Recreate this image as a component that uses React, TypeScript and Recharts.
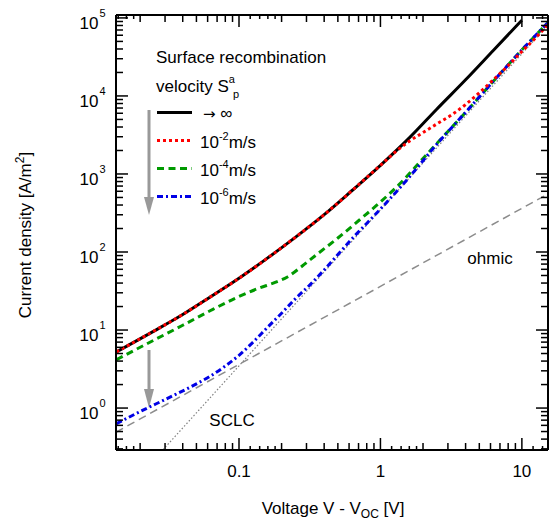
import React from "react";
import { LineChart, Line, XAxis, YAxis, Customized } from "recharts";

// values: voltage V - Voc [V], current density [A/m^2]
const voltInf = [0.0136, 0.025, 0.04, 0.063, 0.1, 0.158, 0.25, 0.4, 0.63, 1, 1.6, 2.5, 4, 6.3, 10];
const currInf = [5.25, 9.68, 15.8, 26.7, 46.1, 82.8, 154, 301, 614, 1290, 2900, 6750, 16100, 38500, 93500];

const voltS2 = [0.0136, 0.025, 0.04, 0.063, 0.1, 0.158, 0.25, 0.4, 0.63, 1, 1.25, 1.6, 2, 2.5, 3.2, 4, 5, 6.3, 8, 10, 12.6, 15.3];
const currS2 = [5.25, 9.68, 15.8, 26.7, 46.1, 82.8, 154, 301, 614, 1290, 1860, 2630, 3390, 4370, 5750, 7760, 11000, 16200, 24500, 37200, 56200, 83200];

const voltS4 = [0.0136, 0.025, 0.04, 0.063, 0.1, 0.14, 0.18, 0.22, 0.28, 0.35, 0.5, 0.71, 1, 1.4, 2, 2.5, 4, 6.3, 10, 15.3];
const currS4 = [4.17, 7.41, 11.5, 17.8, 26.9, 34.7, 40.7, 47.9, 66.1, 91.2, 151, 257, 437, 776, 1580, 2450, 6170, 15500, 38900, 87100];

const voltS6 = [0.0136, 0.02, 0.032, 0.05, 0.063, 0.079, 0.1, 0.126, 0.158, 0.2, 0.25, 0.32, 0.4, 0.63, 1, 1.6, 2.5, 4, 6.3, 10, 15.3];
const currS6 = [0.631, 0.902, 1.36, 2.04, 2.58, 3.4, 4.74, 7.01, 10.7, 16.4, 25.1, 38.5, 58.9, 148, 355, 912, 2400, 6170, 15500, 38900, 87100];

const voltOhmic = [0.0135, 15.3];
const currOhmic = [0.49, 555];

const voltSclc = [0.029, 15.3];
const currSclc = [0.292, 81200];

const xDecades = [0.01, 0.1, 1, 10];
const yDecades = [0.1, 1, 10, 100, 1000, 10000, 100000];

const X_DOMAIN: [number, number] = [0.0135, 15.3];
const Y_DOMAIN: [number, number] = [0.29, 109000];

const FONT = "'Liberation Sans', Arial, Helvetica, sans-serif";

const toPts = (vs: number[], js: number[]) => vs.map((v, i) => ({ v, j: js[i] }));

const inside = (v: number, d: [number, number]) => v >= d[0] * 0.999 && v <= d[1] * 1.001;

const xTicks = xDecades
  .flatMap((d) => [1, 1.2, 1.4, 1.6, 1.8, 2, 3, 4, 5, 6, 7, 8, 9].map((m) => m * d))
  .filter((v) => inside(v, X_DOMAIN));
const yTicks = yDecades
  .flatMap((d) => [1, 2, 3, 4, 5, 6, 7, 8, 9].map((m) => m * d))
  .filter((v) => inside(v, Y_DOMAIN));

const mantissa = (v: number) => v / Math.pow(10, Math.floor(Math.log10(v) + 1e-9));
const isMajor = (v: number) => Math.abs(mantissa(v) - 1) < 1e-6;
const tickLen = (v: number) => {
  const m = mantissa(v);
  if (Math.abs(m - 1) < 1e-6) return 12;
  if (m < 1.99) return 4;
  return 7;
};

const BottomTick = (props: any) => {
  const { x, y, payload } = props;
  const v = payload.value;
  return (
    <g>
      <line x1={x} x2={x} y1={y} y2={y - tickLen(v)} stroke="#000" strokeWidth={1.5} />
      {isMajor(v) && (
        <text x={x} y={y + 27} textAnchor="middle" fontSize={17} fontFamily={FONT} fill="#000">
          {String(v)}
        </text>
      )}
    </g>
  );
};

const TopTick = (props: any) => {
  const { x, y, payload } = props;
  return <line x1={x} x2={x} y1={y} y2={y + tickLen(payload.value)} stroke="#000" strokeWidth={1.5} />;
};

const LeftTick = (props: any) => {
  const { x, y, payload } = props;
  const v = payload.value;
  const exp = Math.round(Math.log10(v));
  return (
    <g>
      <line x1={x} x2={x + tickLen(v)} y1={y} y2={y} stroke="#000" strokeWidth={1.5} />
      {isMajor(v) && (
        <g fontFamily={FONT} fill="#000">
          <text x={98.5} y={y + 11} textAnchor="end" fontSize={17}>10</text>
          <text x={99.5} y={y - 1} fontSize={11}>{exp}</text>
        </g>
      )}
    </g>
  );
};

const RightTick = (props: any) => {
  const { x, y, payload } = props;
  return <line x1={x} x2={x - tickLen(payload.value)} y1={y} y2={y} stroke="#000" strokeWidth={1.5} />;
};

const series = [
  { name: "inf", stroke: "#000000", dash: undefined },
  { name: "s2", stroke: "#ff0000", dash: "3 3" },
  { name: "s4", stroke: "#009a00", dash: "7 4.5" },
  { name: "s6", stroke: "#0000e6", dash: "6 3 2 3" },
];

const Overlay = () => {
  const rows = [112.5, 140.5, 168.5, 196.5];
  const exps = ["-2", "-4", "-6"];
  return (
    <g fontFamily={FONT} fill="#000">
      {/* axis titles */}
      <text x={333} y={514} textAnchor="middle" fontSize={17}>
        Voltage V - V<tspan dy={4} fontSize={12}>OC</tspan>
        <tspan dy={-4}> [V]</tspan>
      </text>
      <text x={31} y={235} textAnchor="middle" fontSize={17} transform="rotate(-90 31 235)">
        Current density [A/m<tspan dy={-7} fontSize={12}>2</tspan>
        <tspan dy={7}>]</tspan>
      </text>

      {/* legend */}
      <text x={156} y={63} fontSize={17}>Surface recombination</text>
      <text x={156} y={92} fontSize={17}>
        velocity S<tspan dy={-9} fontSize={11}>a</tspan>
        <tspan dy={15} dx={-2} fontSize={11}>p</tspan>
      </text>
      {series.map((s, i) => (
        <line
          key={s.name}
          x1={157}
          x2={192}
          y1={rows[i]}
          y2={rows[i]}
          stroke={s.stroke}
          strokeWidth={3}
          strokeDasharray={s.dash}
        />
      ))}
      <text x={203} y={rows[0] + 6} fontSize={17}>
        <tspan fontFamily="'DejaVu Sans', sans-serif" fontSize={15}>{"\u2192"}</tspan> {"\u221E"}
      </text>
      {exps.map((e, i) => (
        <text key={e} x={200} y={rows[i + 1] + 7.5} fontSize={17}>
          10<tspan dy={-8} fontSize={11}>{e}</tspan>
          <tspan dy={8}>m/s</tspan>
        </text>
      ))}

      {/* arrows */}
      <g stroke="#999" fill="#999">
        <line x1={149} x2={149} y1={110} y2={200} strokeWidth={3} />
        <polygon points="144,197 154,197 149,215" stroke="none" />
        <line x1={149} x2={149} y1={350} y2={392} strokeWidth={3} />
        <polygon points="144,389 154,389 149,408" stroke="none" />
      </g>

      <text x={490} y={264} textAnchor="middle" fontSize={17}>ohmic</text>
      <text x={232} y={426} textAnchor="middle" fontSize={17}>SCLC</text>
    </g>
  );
};

export default function App() {
  const axisLine = { stroke: "#000", strokeWidth: 2 };
  return (
    <div style={{ position: "absolute", left: 0, top: 0, background: "#fff" }}>
      <LineChart width={550} height={520} margin={{ top: 0, right: 0, bottom: 0, left: 0 }}>
        <XAxis
          xAxisId="bottom"
          type="number"
          dataKey="v"
          scale="log"
          domain={X_DOMAIN}
          allowDataOverflow
          ticks={xTicks}
          interval={0}
          tick={BottomTick}
          tickLine={false}
          tickSize={0}
          tickMargin={0}
          height={70}
          axisLine={axisLine}
        />
        <XAxis
          xAxisId="top"
          orientation="top"
          type="number"
          dataKey="v"
          scale="log"
          domain={X_DOMAIN}
          allowDataOverflow
          ticks={xTicks}
          interval={0}
          tick={TopTick}
          tickLine={false}
          tickSize={0}
          tickMargin={0}
          height={15}
          axisLine={axisLine}
        />
        <YAxis
          yAxisId="left"
          type="number"
          scale="log"
          domain={Y_DOMAIN}
          allowDataOverflow
          ticks={yTicks}
          interval={0}
          tick={LeftTick}
          tickLine={false}
          tickSize={0}
          tickMargin={0}
          width={116}
          axisLine={axisLine}
        />
        <YAxis
          yAxisId="right"
          orientation="right"
          type="number"
          scale="log"
          domain={Y_DOMAIN}
          allowDataOverflow
          ticks={yTicks}
          interval={0}
          tick={RightTick}
          tickLine={false}
          tickSize={0}
          tickMargin={0}
          width={2}
          axisLine={axisLine}
        />

        <Line
          xAxisId="bottom"
          yAxisId="left"
          data={toPts(voltOhmic, currOhmic)}
          dataKey="j"
          type="linear"
          stroke="#8c8c8c"
          strokeWidth={1.5}
          strokeDasharray="8 5"
          dot={false}
          isAnimationActive={false}
        />
        <Line
          xAxisId="bottom"
          yAxisId="left"
          data={toPts(voltSclc, currSclc)}
          dataKey="j"
          type="linear"
          stroke="#808080"
          strokeWidth={1.2}
          strokeDasharray="1.5 2"
          dot={false}
          isAnimationActive={false}
        />
        <Line
          xAxisId="bottom"
          yAxisId="left"
          data={toPts(voltInf, currInf)}
          dataKey="j"
          type="monotone"
          stroke="#000000"
          strokeWidth={3}
          dot={false}
          isAnimationActive={false}
        />
        <Line
          xAxisId="bottom"
          yAxisId="left"
          data={toPts(voltS4, currS4)}
          dataKey="j"
          type="monotone"
          stroke="#009a00"
          strokeWidth={3}
          strokeDasharray="7 4.5"
          dot={false}
          isAnimationActive={false}
        />
        <Line
          xAxisId="bottom"
          yAxisId="left"
          data={toPts(voltS6, currS6)}
          dataKey="j"
          type="monotone"
          stroke="#0000e6"
          strokeWidth={3}
          strokeDasharray="6 3 2 3"
          dot={false}
          isAnimationActive={false}
        />
        <Line
          xAxisId="bottom"
          yAxisId="left"
          data={toPts(voltS2, currS2)}
          dataKey="j"
          type="monotone"
          stroke="#ff0000"
          strokeWidth={3}
          strokeDasharray="3 3"
          dot={false}
          isAnimationActive={false}
        />

        <Customized component={Overlay} />
      </LineChart>
    </div>
  );
}
